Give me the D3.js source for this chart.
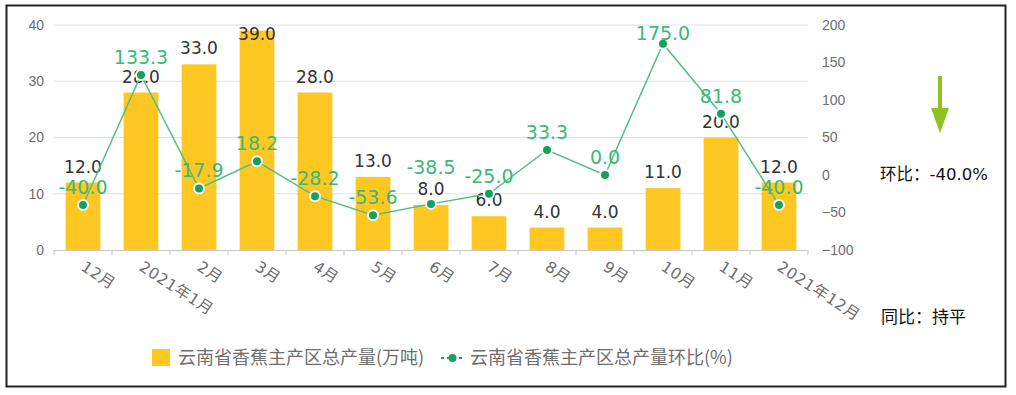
<!DOCTYPE html>
<html><head><meta charset="utf-8">
<script src="https://cdn.jsdelivr.net/npm/d3@7"></script>
<style>
html,body{margin:0;padding:0;background:#fff;}
svg{display:block;font-family:"DejaVu Sans","Noto Sans CJK SC",sans-serif;}
</style></head>
<body>
<svg id="c" width="1016" height="395"></svg>
<script>
const categories = ["12月","2021年1月","2月","3月","4月","5月","6月","7月","8月","9月","10月","11月","2021年12月"];
const production = [12.0,28.0,33.0,39.0,28.0,13.0,8.0,6.0,4.0,4.0,11.0,20.0,12.0];
const momChange = [-40.0,133.3,-17.9,18.2,-28.2,-53.6,-38.5,-25.0,33.3,0.0,175.0,81.8,-40.0];
const leftTicks = [0,10,20,30,40];
const rightTicks = [-100,-50,0,50,100,150,200];
const seriesNames = ["云南省香蕉主产区总产量(万吨)","云南省香蕉主产区总产量环比(%)"];
const momText = "环比：-40.0%";
const yoyText = "同比：持平";

const svg = d3.select("#c");
svg.append("rect").attr("x",6.5).attr("y",5.5).attr("width",999).attr("height",381)
  .attr("fill","#fff").attr("stroke","#222").attr("stroke-width",2);

const L=54, R=808, T=25, B=250;
const labelTop = T+15; // labels are kept inside the plot area
const x = d3.scaleBand().domain(categories).range([L,R]).paddingInner(0.4).paddingOuter(0.2);
const xb = d3.scaleBand().domain(categories).range([L,R]);
const yL = d3.scaleLinear().domain([0,40]).range([B,T]);
const yR = d3.scaleLinear().domain([-100,200]).range([B,T]);

svg.append("g").selectAll("line").data(leftTicks.slice(1)).join("line")
  .attr("x1",L).attr("x2",R).attr("y1",d=>yL(d)).attr("y2",d=>yL(d))
  .attr("stroke","#e0e0e0").attr("stroke-width",1);

const gl = svg.append("g").attr("transform",`translate(${L},0)`)
  .call(d3.axisLeft(yL).tickValues(leftTicks).tickSize(0).tickPadding(10));
gl.select(".domain").remove();
gl.selectAll("text").attr("fill","#6e6e6e").attr("font-size",14).attr("font-family",null);

const gr = svg.append("g").attr("transform",`translate(${R},0)`)
  .call(d3.axisRight(yR).tickValues(rightTicks).tickSize(0).tickPadding(14));
gr.select(".domain").remove();
gr.selectAll("text").attr("fill","#6e6e6e").attr("font-size",14).attr("font-family",null);

svg.append("g").selectAll("rect").data(production).join("rect")
  .attr("x",(d,i)=>x(categories[i])).attr("width",x.bandwidth())
  .attr("y",d=>yL(d)).attr("height",d=>B-yL(d)).attr("fill","#ffc721");

const gx = svg.append("g").attr("transform",`translate(0,${B})`)
  .call(d3.axisBottom(xb).tickSize(0).tickFormat(""));
gx.select(".domain").attr("stroke","#c8c8c8");
svg.append("g").selectAll("line").data(d3.range(categories.length+1)).join("line")
  .attr("x1",i=>L+i*xb.step()).attr("x2",i=>L+i*xb.step()).attr("y1",B).attr("y2",B+5)
  .attr("stroke","#c8c8c8");
svg.append("g").selectAll("text").data(categories).join("text")
  .attr("transform",d=>`translate(${xb(d)+xb.bandwidth()/2},${B+15}) rotate(33)`)
  .attr("font-size",15.5).attr("fill","#6e6e6e").attr("dy","0.35em").attr("letter-spacing",0.6)
  .text(d=>d);

const barLabelY = production.map(d=>Math.max(yL(d)-10,labelTop));
svg.append("g").selectAll("text").data(production).join("text")
  .attr("x",(d,i)=>xb(categories[i])+xb.bandwidth()/2).attr("y",(d,i)=>barLabelY[i])
  .attr("text-anchor","middle").attr("font-size",17).attr("fill","#333")
  .text(d=>d.toFixed(1));

const cx = i=>xb(categories[i])+xb.bandwidth()/2;
const line = d3.line().x((d,i)=>cx(i)).y(d=>yR(d));
svg.append("path").datum(momChange).attr("d",line).attr("fill","none")
  .attr("stroke","#52bf85").attr("stroke-width",1.5);
svg.append("g").selectAll("circle").data(momChange).join("circle")
  .attr("cx",(d,i)=>cx(i)).attr("cy",d=>yR(d)).attr("r",5)
  .attr("fill","#17a05d").attr("stroke","#fff").attr("stroke-width",2);
// simple overlap avoidance: push a line label above a bar label that it would collide with
const lineLabelY = momChange.map((d,i)=>{
  let y = Math.max(yR(d)-11,labelTop);
  if (Math.abs(y-barLabelY[i])<14) y = barLabelY[i]-21;
  return y;
});
svg.append("g").selectAll("text").data(momChange).join("text")
  .attr("x",(d,i)=>cx(i)).attr("y",(d,i)=>lineLabelY[i])
  .attr("text-anchor","middle").attr("font-size",19).attr("fill","#3cb878")
  .text(d=>d.toFixed(1));

const lg = svg.append("g").attr("font-family","'Noto Sans CJK SC',sans-serif");
lg.append("rect").attr("x",152).attr("y",349).attr("width",18).attr("height",17).attr("fill","#ffc721");
lg.append("text").attr("x",178).attr("y",364).attr("font-size",18).attr("fill","#6e6e6e").text(seriesNames[0]);
lg.append("line").attr("x1",441).attr("x2",464).attr("y1",358).attr("y2",358)
  .attr("stroke","#17a05d").attr("stroke-width",2).attr("stroke-dasharray","3,3");
lg.append("circle").attr("cx",452.5).attr("cy",358).attr("r",4).attr("fill","#17a05d");
lg.append("text").attr("x",470).attr("y",364).attr("font-size",18).attr("fill","#6e6e6e").text(seriesNames[1]);

const ag = svg.append("g");
ag.append("rect").attr("x",938).attr("y",76).attr("width",4).attr("height",40).attr("fill","#8dc21f");
ag.append("path").attr("d","M931,108 L949,108 L940,133 Z").attr("fill","#8dc21f");
ag.append("text").attr("x",880).attr("y",180).attr("font-size",16.5).attr("fill","#111").text(momText);
ag.append("text").attr("x",881).attr("y",323).attr("font-size",17).attr("fill","#111")
  .attr("font-family","'Noto Sans CJK SC',sans-serif").text(yoyText);
</script>
</body></html>
